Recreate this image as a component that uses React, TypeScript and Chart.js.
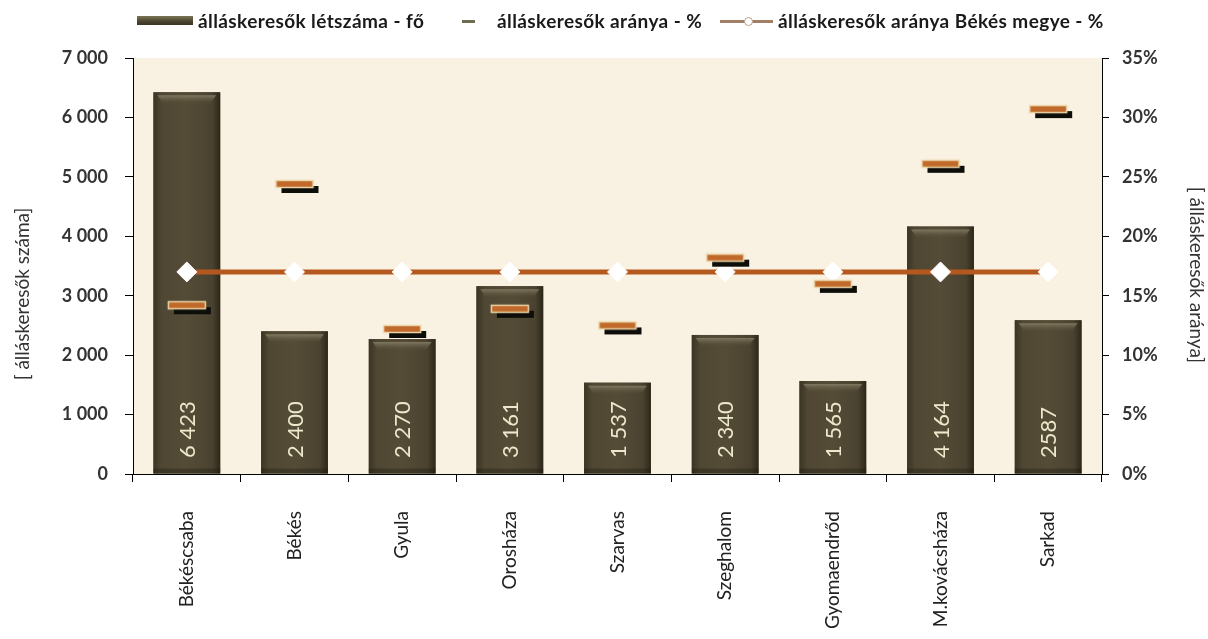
import { useEffect, useRef } from "react";
import { Chart, registerables } from "chart.js";

Chart.register(...registerables);

const towns = [
  "Békéscsaba",
  "Békés",
  "Gyula",
  "Orosháza",
  "Szarvas",
  "Szeghalom",
  "Gyomaendrőd",
  "M.kovácsháza",
  "Sarkad",
];
const jobseekers = [6423, 2400, 2270, 3161, 1537, 2340, 1565, 4164, 2587];
const jobseekerLabels = ["6 423", "2 400", "2 270", "3 161", "1 537", "2 340", "1 565", "4 164", "2587"];
const jobseekerRate = [0.142, 0.244, 0.122, 0.139, 0.125, 0.182, 0.16, 0.261, 0.307];
const countyRate = [0.17, 0.17, 0.17, 0.17, 0.17, 0.17, 0.17, 0.17, 0.17];

const FONT = "Lato, 'Open Sans', sans-serif";

const thousands = (v: number) => String(v).replace(/\B(?=(\d{3})+(?!\d))/g, " ");

function makeDash() {
  const c = document.createElement("canvas");
  c.width = 52;
  c.height = 26;
  const ctx = c.getContext("2d")!;
  ctx.fillStyle = "#0d0d0a";
  ctx.fillRect(13, 15, 37, 7);
  ctx.fillStyle = "#C0692A";
  ctx.fillRect(7.5, 9.5, 37, 7);
  ctx.strokeStyle = "#EBD5A8";
  ctx.lineWidth = 1.5;
  ctx.strokeRect(7.5, 9.5, 37, 7);
  return c;
}

const plotBg = {
  id: "plotBg",
  beforeDraw(chart: any) {
    const { ctx, chartArea: a } = chart;
    ctx.save();
    ctx.fillStyle = "#F9F2E3";
    ctx.fillRect(a.left, a.top, a.right - a.left, a.bottom - a.top);
    ctx.restore();
  },
};

const barDeco = {
  id: "barDeco",
  afterDatasetDraw(chart: any, args: any) {
    if (args.index !== 0) return;
    const ctx = chart.ctx;
    ctx.save();
    args.meta.data.forEach((bar: any, i: number) => {
      const left = bar.x - bar.width / 2;
      const h = bar.base - bar.y;
      const g = ctx.createLinearGradient(left, 0, left + bar.width, 0);
      g.addColorStop(0, "#3a3423");
      g.addColorStop(0.12, "#4f4733");
      g.addColorStop(0.5, "#554c37");
      g.addColorStop(0.88, "#4a4230");
      g.addColorStop(1, "#2c2718");
      ctx.fillStyle = g;
      ctx.fillRect(left, bar.y, bar.width, h);
      // top bevel
      const t = ctx.createLinearGradient(0, bar.y + 2, 0, bar.y + 12);
      t.addColorStop(0, "#8b836a");
      t.addColorStop(1, "rgba(85,76,55,0)");
      ctx.fillStyle = t;
      ctx.beginPath();
      ctx.moveTo(left + 4, bar.y + 3);
      ctx.lineTo(left + bar.width - 4, bar.y + 3);
      ctx.lineTo(left + bar.width - 10, bar.y + 12);
      ctx.lineTo(left + 10, bar.y + 12);
      ctx.closePath();
      ctx.fill();
      // darker foot
      ctx.fillStyle = "rgba(30,26,15,0.35)";
      ctx.fillRect(left, bar.base - 5, bar.width, 5);
      // value label
      ctx.save();
      ctx.translate(bar.x, 458);
      ctx.rotate(-Math.PI / 2);
      ctx.fillStyle = "#ECE8CC";
      ctx.font = `22px ${FONT}`;
      ctx.textAlign = "left";
      ctx.textBaseline = "middle";
      ctx.fillText(jobseekerLabels[i], 0, 1);
      ctx.restore();
    });
    ctx.restore();
  },
};

const axisTitles = {
  id: "axisTitles",
  afterDraw(chart: any) {
    const ctx = chart.ctx;
    ctx.save();
    ctx.fillStyle = "#333";
    ctx.font = `19px ${FONT}`;
    ctx.textAlign = "center";
    ctx.textBaseline = "middle";
    ctx.translate(23, 294);
    ctx.rotate(-Math.PI / 2);
    ctx.fillText("[ álláskeresők száma]", 0, 0);
    ctx.restore();
    ctx.save();
    ctx.fillStyle = "#333";
    ctx.font = `19px ${FONT}`;
    ctx.textAlign = "center";
    ctx.textBaseline = "middle";
    ctx.translate(1196, 275);
    ctx.rotate(Math.PI / 2);
    ctx.fillText("[ álláskeresők aránya]", 0, 0);
    ctx.restore();
  },
};

export default function App() {
  const chartRef = useRef<HTMLCanvasElement>(null);
  const chartInstance = useRef<Chart | null>(null);

  useEffect(() => {
    document.body.style.margin = "0";
    if (!chartRef.current) return;
    if (chartInstance.current) chartInstance.current.destroy();

    const tickFont = { family: FONT, size: 18, weight: "bold" as const };

    chartInstance.current = new Chart(chartRef.current, {
      type: "bar",
      data: {
        labels: towns,
        datasets: [
          {
            type: "bar",
            label: "álláskeresők létszáma - fő",
            data: jobseekers,
            yAxisID: "y",
            backgroundColor: "#4D4531",
            barPercentage: 0.62,
            categoryPercentage: 1,
            order: 3,
          },
          {
            type: "line",
            label: "álláskeresők aránya Békés megye - %",
            data: countyRate,
            yAxisID: "y1",
            borderColor: "#B5581F",
            borderWidth: 5,
            pointStyle: "rectRot",
            pointRadius: 10,
            pointBackgroundColor: "#ffffff",
            pointBorderColor: "#ffffff",
            pointBorderWidth: 1,
            order: 2,
          },
          {
            type: "line",
            label: "álláskeresők aránya - %",
            data: jobseekerRate,
            yAxisID: "y1",
            showLine: false,
            pointStyle: makeDash() as any,
            pointRadius: 10,
            order: 1,
          },
        ],
      },
      options: {
        responsive: false,
        animation: false,
        layout: { padding: { top: 58, left: 0, right: 0, bottom: 0 } },
        plugins: {
          legend: { display: false },
          tooltip: { enabled: false },
        },
        scales: {
          x: {
            grid: { offset: true, drawOnChartArea: false, tickLength: 8, color: "#000" },
            border: { color: "#000" },
            ticks: {
              minRotation: 90,
              maxRotation: 90,
              padding: 29,
              color: "#222",
              font: { family: FONT, size: 19 },
            },
            afterFit: (s: any) => {
              s.height = 165;
            },
          },
          y: {
            position: "left",
            min: 0,
            max: 7000,
            grid: { drawOnChartArea: false, tickLength: 8, color: "#000" },
            border: { color: "#000" },
            ticks: {
              stepSize: 1000,
              padding: 17,
              color: "#333",
              font: tickFont,
              callback: (v: any) => thousands(Number(v)),
            },
            afterFit: (s: any) => {
              s.width = 133;
            },
          },
          y1: {
            position: "right",
            min: 0,
            max: 0.35,
            grid: { drawOnChartArea: false, tickLength: 7, color: "#000" },
            border: { color: "#000" },
            ticks: {
              stepSize: 0.05,
              padding: 13,
              color: "#333",
              font: tickFont,
              callback: (v: any) => `${Math.round(Number(v) * 100)}%`,
            },
            afterFit: (s: any) => {
              s.width = 106;
            },
          },
        },
      },
      plugins: [plotBg, barDeco, axisTitles],
    });

    return () => {
      if (chartInstance.current) {
        chartInstance.current.destroy();
        chartInstance.current = null;
      }
    };
  }, []);

  const text = {
    position: "absolute" as const,
    top: 9,
    fontFamily: FONT,
    fontWeight: 700,
    fontSize: 19,
    letterSpacing: "0.4px",
    lineHeight: "24px",
    color: "#1a1a1a",
    whiteSpace: "nowrap" as const,
  };

  return (
    <div style={{ position: "relative", width: 1208, height: 639, background: "#fff" }}>
      <canvas ref={chartRef} width={1208} height={639} style={{ position: "absolute", left: 0, top: 0 }} />
      <div
        style={{
          position: "absolute",
          left: 137,
          top: 16,
          width: 56,
          height: 9,
          background: "linear-gradient(to bottom, #7c7658, #4a4430 60%, #3b3524)",
        }}
      />
      <div style={{ ...text, left: 198 }}>álláskeresők létszáma - fő</div>
      <div style={{ position: "absolute", left: 462, top: 20, width: 13, height: 3, background: "#6f6c52" }} />
      <div style={{ ...text, left: 497 }}>álláskeresők aránya - %</div>
      <div style={{ position: "absolute", left: 720, top: 20, width: 53, height: 3, background: "#a17f66" }} />
      <div
        style={{
          position: "absolute",
          left: 744,
          top: 17,
          width: 7,
          height: 7,
          borderRadius: "50%",
          background: "#fff",
          border: "1px solid #b8a08c",
        }}
      />
      <div style={{ ...text, left: 778 }}>álláskeresők aránya Békés megye - %</div>
    </div>
  );
}
